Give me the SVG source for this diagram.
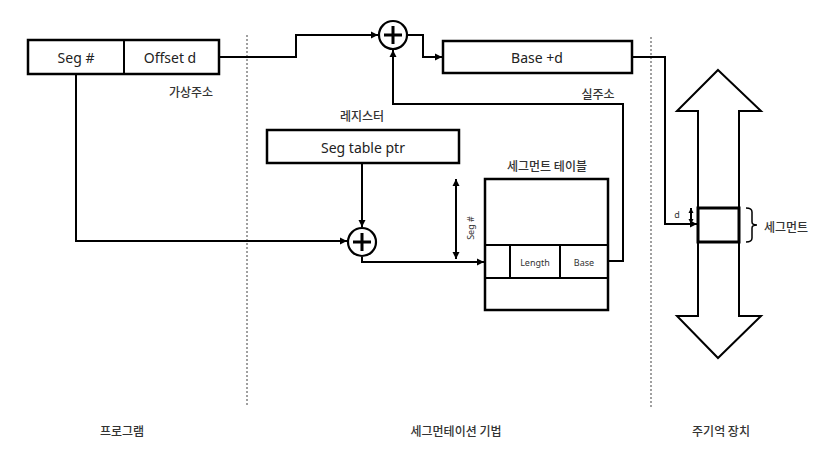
<svg xmlns="http://www.w3.org/2000/svg" width="837" height="462" viewBox="0 0 837 462">
<style>
.box{fill:#fff;stroke:#000;stroke-width:2.5}
.ln{fill:none;stroke:#000;stroke-width:2}
.dot{fill:none;stroke:#a0a0a0;stroke-width:2;stroke-dasharray:2 2}
.t{font-family:"Noto Sans","Noto Sans CJK KR",sans-serif;font-size:14px;fill:#222;text-anchor:middle;dominant-baseline:central}
.k{font-family:"Noto Sans CJK KR","Noto Sans",sans-serif;font-size:12px;font-weight:500;fill:#333;text-anchor:middle;dominant-baseline:central}
.s{font-family:"Noto Sans","Noto Sans CJK KR",sans-serif;font-size:9px;fill:#333;text-anchor:middle;dominant-baseline:central}
</style>
<defs>
<marker id="ah" markerWidth="8" markerHeight="8" refX="7" refY="4" orient="auto" markerUnits="userSpaceOnUse">
<path d="M0,0.5 L7,4 L0,7.5 Z" fill="#000"/>
</marker>
<marker id="ahs" markerWidth="8" markerHeight="8" refX="7" refY="4" orient="auto-start-reverse" markerUnits="userSpaceOnUse">
<path d="M0,0.5 L7,4 L0,7.5 Z" fill="#000"/>
</marker>
<marker id="ahm" markerWidth="6" markerHeight="6" refX="5" refY="3" orient="auto-start-reverse" markerUnits="userSpaceOnUse">
<path d="M0,0.5 L5,3 L0,5.5 Z" fill="#000"/>
</marker>
</defs>
<rect width="837" height="462" fill="#fff"/>

<g id="dividers">
<line class="dot" x1="247" y1="35" x2="247" y2="407"/>
<line class="dot" x1="651" y1="37" x2="651" y2="407"/>
</g>

<g id="connectors">
<path class="ln" d="M219,57 H296 V35 H378" marker-end="url(#ah)"/>
<path class="ln" d="M407,35 H423 V57 H442" marker-end="url(#ah)"/>
<path class="ln" d="M609,261 H623 V104 H393 V50" marker-end="url(#ah)"/>
<path class="ln" d="M76,74 V241 H347" marker-end="url(#ah)"/>
<path class="ln" d="M362,163 V227" marker-end="url(#ah)"/>
<path class="ln" d="M362,257 V262 H484" marker-end="url(#ah)"/>
<path class="ln" d="M632,57 H665 V224 H697" marker-end="url(#ah)"/>
<line class="ln" x1="456" y1="179" x2="456" y2="259" marker-start="url(#ahs)" marker-end="url(#ahs)"/>
<line class="ln" x1="691" y1="208" x2="691" y2="224" stroke-width="1.8" marker-start="url(#ahm)" marker-end="url(#ahm)"/>
</g>

<g id="virtual-address">
<rect class="box" x="28" y="40" width="191" height="34"/>
<line class="ln" x1="124" y1="40" x2="124" y2="74" stroke-width="2.5"/>
<text class="t" x="76" y="57">Seg #</text>
<text class="t" x="170" y="57">Offset d</text>
<text class="k" x="191" y="91">가상주소</text>
</g>

<g id="adder-top">
<circle cx="393" cy="35" r="14" fill="#fff" stroke="#000" stroke-width="2.2"/>
<path d="M384,35 H402 M393,26 V44" stroke="#000" stroke-width="3" fill="none"/>
</g>

<g id="base-d">
<rect class="box" x="443" y="41" width="189" height="32"/>
<text class="t" x="537" y="57">Base +d</text>
<text class="k" x="598" y="93">실주소</text>
</g>

<g id="register">
<text class="k" x="362" y="115">레지스터</text>
<rect class="box" x="267" y="130" width="192" height="33"/>
<text class="t" x="363" y="147">Seg table ptr</text>
</g>

<g id="adder-bottom">
<circle cx="362" cy="242" r="14" fill="#fff" stroke="#000" stroke-width="2.2"/>
<path d="M353,242 H371 M362,233 V251" stroke="#000" stroke-width="3" fill="none"/>
</g>

<g id="seg-label">
<text class="s" x="470" y="228" transform="rotate(-90 470 228)" font-size="10">Seg #</text>
</g>

<g id="segment-table">
<text class="k" x="547" y="165">세그먼트 테이블</text>
<rect class="box" x="485" y="179" width="123" height="131"/>
<line class="ln" x1="485" y1="245" x2="608" y2="245" stroke-width="2.5"/>
<line class="ln" x1="485" y1="278" x2="608" y2="278" stroke-width="2.5"/>
<line class="ln" x1="510" y1="245" x2="510" y2="278" stroke-width="2.5"/>
<line class="ln" x1="560" y1="245" x2="560" y2="278" stroke-width="2.5"/>
<text class="s" x="535" y="262">Length</text>
<text class="s" x="584" y="262">Base</text>
</g>

<g id="memory">
<path d="M718,70 L761,111 H739 V316 H761 L718,358 L677,316 H698 V111 H677 Z" fill="#fff" stroke="#000" stroke-width="2"/>
<rect x="698" y="208" width="41" height="34" fill="#fff" stroke="#000" stroke-width="3"/>
<text class="s" x="677" y="214">d</text>
<path d="M746,208 Q752,208 752,212 V222 Q752,225 757,225 Q752,225 752,228 V238 Q752,242 746,242" fill="none" stroke="#000" stroke-width="1.5"/>
<text class="k" x="764" y="226" style="text-anchor:start">세그먼트</text>
</g>

<g id="section-labels">
<text class="k" x="122" y="430">프로그램</text>
<text class="k" x="456" y="430">세그먼테이션 기법</text>
<text class="k" x="721" y="430">주기억 장치</text>
</g>
</svg>
